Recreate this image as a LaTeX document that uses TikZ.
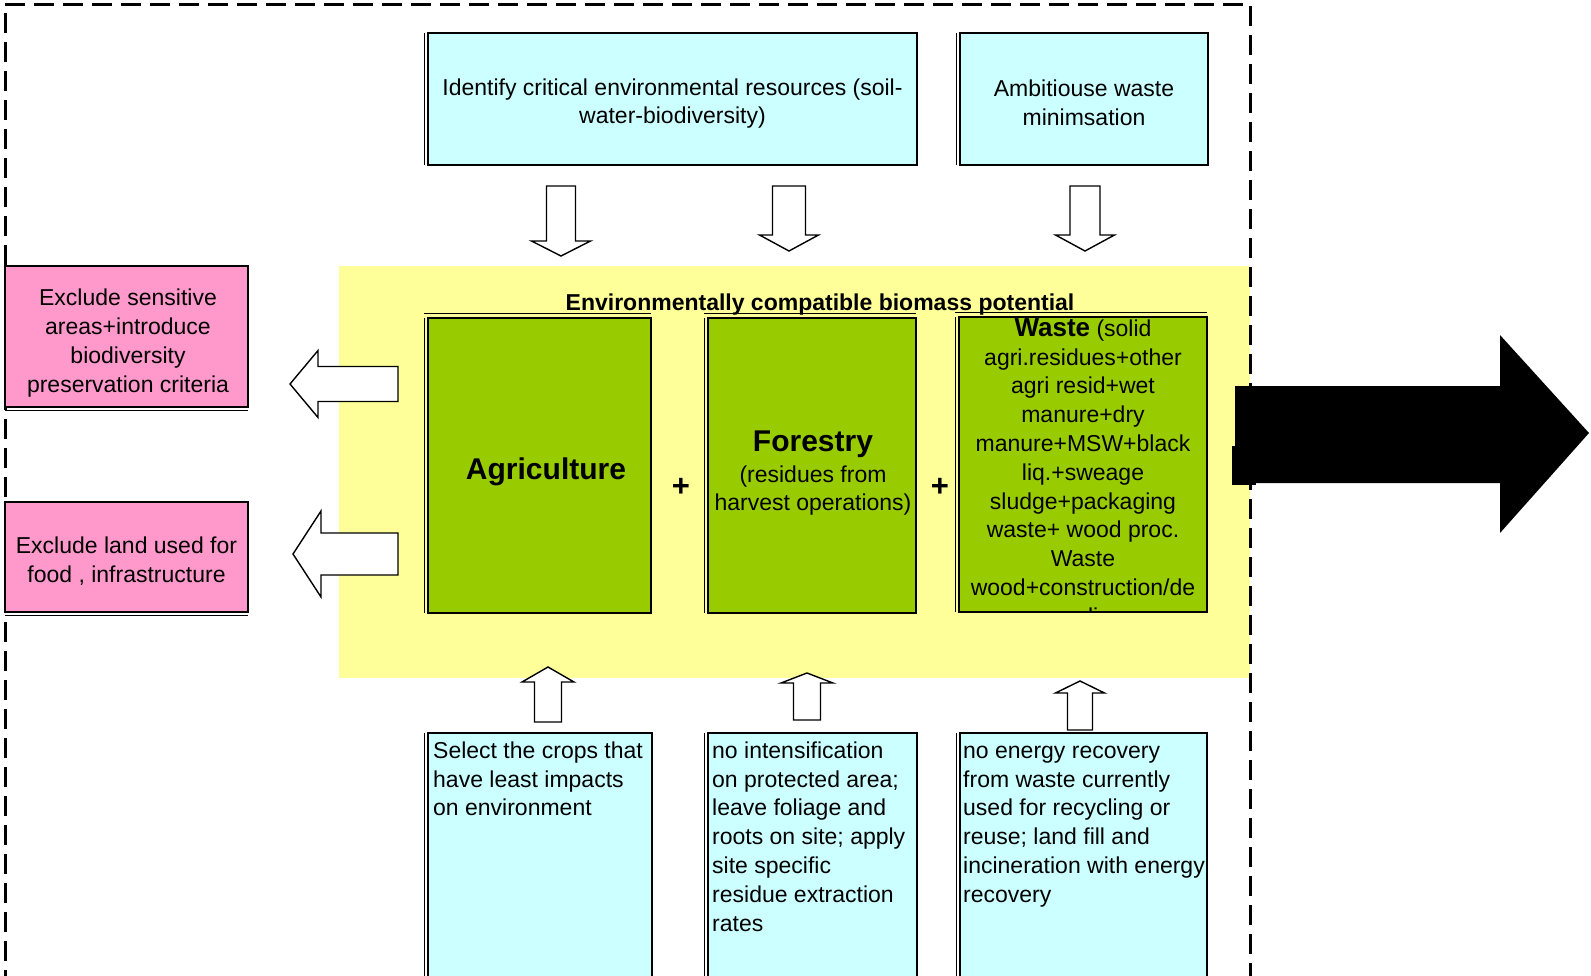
\documentclass[tikz,border=0pt]{standalone}
\usepackage{fontspec}
\setmainfont{Liberation Sans}
\usetikzlibrary{positioning}
\definecolor{areayellow}{HTML}{FFFF99}
\definecolor{notecyan}{HTML}{CCFFFF}
\definecolor{sourcegreen}{HTML}{99CC00}
\definecolor{excludepink}{HTML}{FF99CC}
\newcommand{\boxfont}{\fontsize{23}{28.8}\selectfont}

\begin{document}
\begin{tikzpicture}[x=1pt, y=-1pt,
    dashframe/.style={line width=3pt, dash pattern=on 20pt off 9pt},
    panel/.style={draw, line width=2.6pt, anchor=north west, inner sep=0pt, outer sep=0pt},
    aim/.style={panel, fill=notecyan},
    source/.style={panel, fill=sourcegreen},
    exclude/.style={panel, fill=excludepink},
    boxtext/.style={inner sep=0pt, font=\boxfont},
    plus/.style={font=\fontsize{31}{31}\selectfont\bfseries},
    hollow/.style={draw, fill=white, line width=1.4pt, line join=miter}]
  \clip (0,0) rectangle (1591,975);
  \fill[areayellow] (339,266) rectangle (1250,678);
  \draw[dashframe] (5,990) -- (5,4) -- (1250,4) -- (1250,990);

  % boxes
  \node[aim, minimum width=489, minimum height=132] (resources) at (428,33) {};
  \node[aim, minimum width=248, minimum height=132] (minimise) at (960,33) {};
  \node[exclude, minimum width=243, minimum height=141] (sensitive) at (5,266) {};
  \node[exclude, minimum width=243, minimum height=110] (landuse) at (5,502) {};
  \node[source, minimum width=223, minimum height=295] (agri) at (428,318) {};
  \node[source, minimum width=208, minimum height=295] (forest) at (708,318) {};
  \node[source, minimum width=248, minimum height=295] (waste) at (959,317) {};
  \node[aim, minimum width=224, minimum height=260] (crops) at (428,733) {};
  \node[aim, minimum width=209, minimum height=260] (forestrule) at (708,733) {};
  \node[aim, minimum width=247, minimum height=260] (wasterule) at (960,733) {};

  % thin outer lines
  \foreach \n in {resources,minimise,agri,forest,waste,crops,forestrule,wasterule}
    \draw[line width=1pt] ([xshift=-4pt]\n.north west) -- ([xshift=-4pt]\n.south west);
  \foreach \n in {agri,forest,waste}
    \draw[line width=1pt] ([xshift=-4pt,yshift=5pt]\n.north west) -- ([yshift=5pt]\n.north east);
  \foreach \n in {sensitive,landuse}
    \draw[line width=1pt] ([yshift=-3pt]\n.south west) -- ([yshift=-3pt]\n.south east);

  % block arrows
  \foreach \cx/\bw/\hw/\top/\base/\tip in {561/14.5/29.5/186/241/256, 789/16.5/29.5/186/235/251, 1085/15/29.5/186/235/251}
    \draw[hollow] (\cx-\bw,\top) -- (\cx+\bw,\top) -- (\cx+\bw,\base) -- (\cx+\hw,\base)
      -- (\cx,\tip) -- (\cx-\hw,\base) -- (\cx-\bw,\base) -- cycle;
  \foreach \cx/\bw/\hw/\bot/\base/\tip in {548/13.5/26/722/682/667, 807/13.5/26/720/683/673, 1080/12.5/24.5/730/693/681}
    \draw[hollow] (\cx-\bw,\bot) -- (\cx-\bw,\base) -- (\cx-\hw,\base) -- (\cx,\tip)
      -- (\cx+\hw,\base) -- (\cx+\bw,\base) -- (\cx+\bw,\bot) -- cycle;
  \foreach \cy/\bh/\hh/\rgt/\base/\tip in {384/17.5/33.5/398/318/290, 554/21/43/398/321/293}
    \draw[hollow] (\rgt,\cy-\bh) -- (\base,\cy-\bh) -- (\base,\cy-\hh) -- (\tip,\cy)
      -- (\base,\cy+\hh) -- (\base,\cy+\bh) -- (\rgt,\cy+\bh) -- cycle;
  \fill (1235,386) -- (1500,386) -- (1500,335) -- (1589,433) -- (1500,533) -- (1500,483) -- (1235,483) -- cycle;
  \fill (1232,446) rectangle (1256,485);

  % texts
  \node[font=\fontsize{23}{26}\selectfont\bfseries, anchor=base] (title) at (820,310)
    {Environmentally compatible biomass potential};
  \node[boxtext, align=center, yshift=-4.5pt] (resourcestext) at (resources.center)
    {Identify critical environmental resources (soil-\\water-biodiversity)};
  \node[boxtext, align=center, yshift=-4pt] (minimisetext) at (minimise.center)
    {Ambitiouse waste\\minimsation};
  \node[boxtext, align=center, xshift=1.5pt, yshift=-6.5pt] (sensitivetext) at (sensitive.center)
    {Exclude sensitive\\areas+introduce\\biodiversity\\preservation criteria};
  \node[boxtext, align=center, yshift=-4pt] (landusetext) at (landuse.center)
    {Exclude land used for\\food , infrastructure};
  \node[font=\fontsize{30}{30}\selectfont\bfseries, anchor=base] (agritext) at (546,479) {Agriculture};
  \node[boxtext, align=center, anchor=north] (foresttext) at (813,429)
    {\rule{0pt}{22pt}{\fontsize{30}{30}\selectfont\bfseries Forestry}\\[2pt](residues from\\harvest operations)};
  \begin{scope}
    \clip (waste.north west) rectangle (waste.south east);
    \node[boxtext, align=center, anchor=north] (wastetext) at (1083,316)
      {\strut{\fontsize{26}{26}\selectfont\bfseries Waste} (solid\\agri.residues+other\\agri resid+wet\\manure+dry\\
       manure+MSW+black\\liq.+sweage\\sludge+packaging\\waste+ wood proc.\\Waste\\wood+construction/de\\molis};
  \end{scope}
  \node[plus] (plusA) at (681,487) {+};
  \node[plus] (plusB) at (940,487) {+};
  \node[boxtext, align=left, anchor=north west] (cropstext) at ([xshift=5pt,yshift=-5pt]crops.north west)
    {\strut Select the crops that\\have least impacts\\on environment};
  \node[boxtext, align=left, anchor=north west] (forestruletext) at ([xshift=4pt,yshift=-5pt]forestrule.north west)
    {\strut no intensification\\on protected area;\\leave foliage and\\roots on site; apply\\site specific\\residue extraction\\rates};
  \node[boxtext, align=left, anchor=north west] (wasteruletext) at ([xshift=3pt,yshift=-5pt]wasterule.north west)
    {\strut no energy recovery\\from waste currently\\used for recycling or\\reuse; land fill and\\incineration with energy\\recovery};
\end{tikzpicture}
\end{document}
